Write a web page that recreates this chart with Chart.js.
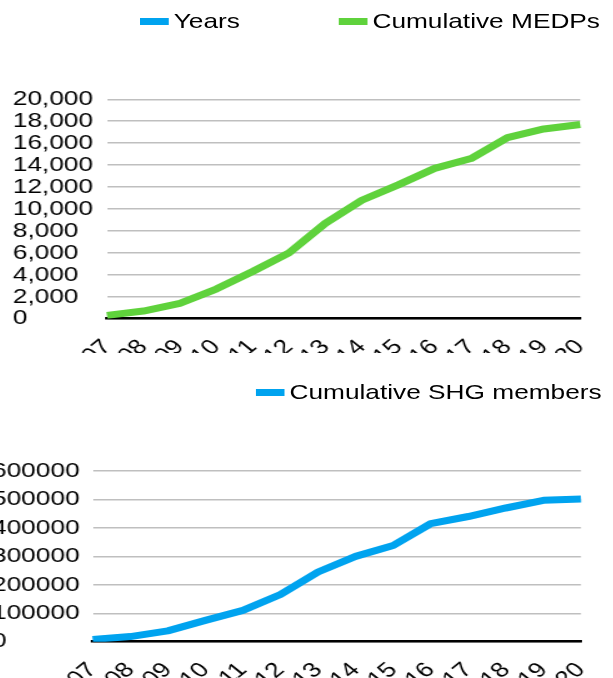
<!DOCTYPE html>
<html>
<head>
<meta charset="utf-8">
<script src="https://cdn.jsdelivr.net/npm/chart.js@4.4.0/dist/chart.umd.min.js"></script>
<style>
    html, body { margin: 0; padding: 0; background: #fff; }
    body { width: 613px; height: 678px; overflow: hidden; position: relative; font-family: "Liberation Sans", Arial, sans-serif; }
    .panel { position: absolute; left: 0; width: 613px; overflow: hidden; }
    /* the reference is drawn horizontally stretched, so draw narrow and stretch */
    .stretch { position: absolute; top: 0; transform: scaleX(1.25); transform-origin: 0 0; }
    .legend { position: absolute; display: flex; align-items: center; font-size: 21px; color: #000; white-space: nowrap; }
    .legend .item { display: flex; align-items: center; }
    .legend .item + .item { margin-left: 79px; }
    .legend .box { display: inline-block; width: 23px; height: 7px; margin-right: 4px; }
</style>
</head>
<body>
<div class="panel" style="top:0;height:353px;">
    <div class="stretch" style="left:0;width:490px;height:353px;">
        <canvas id="medpChart" width="490" height="353"></canvas>
        <div class="legend" id="medpLegend" style="left:112px;top:9px;"></div>
    </div>
</div>
<div class="panel" style="top:353px;height:325px;">
    <div class="stretch" style="left:-7.6px;width:497px;height:325px;">
        <canvas id="shgChart" width="497" height="325"></canvas>
        <div class="legend" id="shgLegend" style="left:211px;top:27px;"></div>
    </div>
</div>

<script>
const years = ['2006-07', '2007-08', '2008-09', '2009-10', '2010-11', '2011-12', '2012-13',
               '2013-14', '2014-15', '2015-16', '2016-17', '2017-18', '2018-19', '2019-20'];

const cumulativeMedps = [300, 700, 1400, 2700, 4300, 6000, 8700,
                         10800, 12200, 13700, 14600, 16500, 17300, 17700];

const cumulativeShgMembers = [8000, 18000, 38000, 75000, 110000, 166000, 245000,
                              300000, 338000, 415000, 440000, 470000, 497000, 502000];

const medpTicks = { max: 20000, step: 2000 };
const shgTicks = { max: 600000, step: 100000 };

const GREEN = '#5fd23c';
const BLUE = '#00a3ef';

Chart.defaults.font.family = '"Liberation Sans", Arial, sans-serif';
Chart.defaults.color = '#000';

// Build the chart options, with the plot box pinned to where it sits in the picture
function buildOptions(ticks, format, pad, yWidth, xHeight) {
    return {
        responsive: false,
        animation: false,
        layout: { padding: pad },
        plugins: {
            legend: { display: false },
            tooltip: { enabled: false }
        },
        elements: {
            point: { radius: 0 },
            line: { tension: 0, borderWidth: 7, borderJoinStyle: 'round' }
        },
        scales: {
            x: {
                type: 'category',
                offset: false,
                grid: { display: false },
                border: { display: true, color: '#000', width: 2.5 },
                ticks: {
                    autoSkip: false,
                    maxRotation: 45,
                    minRotation: 45,
                    padding: 8,
                    font: { size: 21 }
                },
                afterFit: function(scale) { scale.height = xHeight; }
            },
            y: {
                min: 0,
                max: ticks.max,
                grid: { color: '#bfbfbf', lineWidth: 1.5, drawTicks: false },
                border: { display: false },
                ticks: {
                    stepSize: ticks.step,
                    autoSkip: false,
                    crossAlign: 'far',
                    padding: 0,
                    font: { size: 21 },
                    callback: format
                },
                afterFit: function(scale) { scale.width = yWidth; }
            }
        }
    };
}

// Legend drawn as plain text next to the canvas, from the datasets
function renderLegend(id, datasets) {
    const html = datasets.map(ds => `
        <div class="item"><span class="box" style="background:${ds.borderColor}"></span>${ds.label}</div>
    `).join('');
    document.getElementById(id).innerHTML = html;
}

const medpDatasets = [
    { label: 'Years', data: [], borderColor: BLUE, backgroundColor: BLUE },
    { label: 'Cumulative MEDPs', data: cumulativeMedps, borderColor: GREEN, backgroundColor: GREEN }
];

const shgDatasets = [
    { label: 'Cumulative SHG members', data: cumulativeShgMembers, borderColor: BLUE, backgroundColor: BLUE }
];

new Chart(document.getElementById('medpChart'), {
    type: 'line',
    data: { labels: years, datasets: medpDatasets },
    options: buildOptions(medpTicks, v => v.toLocaleString('en-US'),
        { left: 10.2, right: 4.4, top: 99.3, bottom: 0 }, 75.4, 34.3)
});

new Chart(document.getElementById('shgChart'), {
    type: 'line',
    data: { labels: years, datasets: shgDatasets },
    options: buildOptions(shgTicks, v => String(v),
        { left: 0, right: 4.5, top: 118, bottom: 0 }, 80.5, 36.3)
});

renderLegend('medpLegend', medpDatasets);
renderLegend('shgLegend', shgDatasets);
</script>
</body>
</html>
